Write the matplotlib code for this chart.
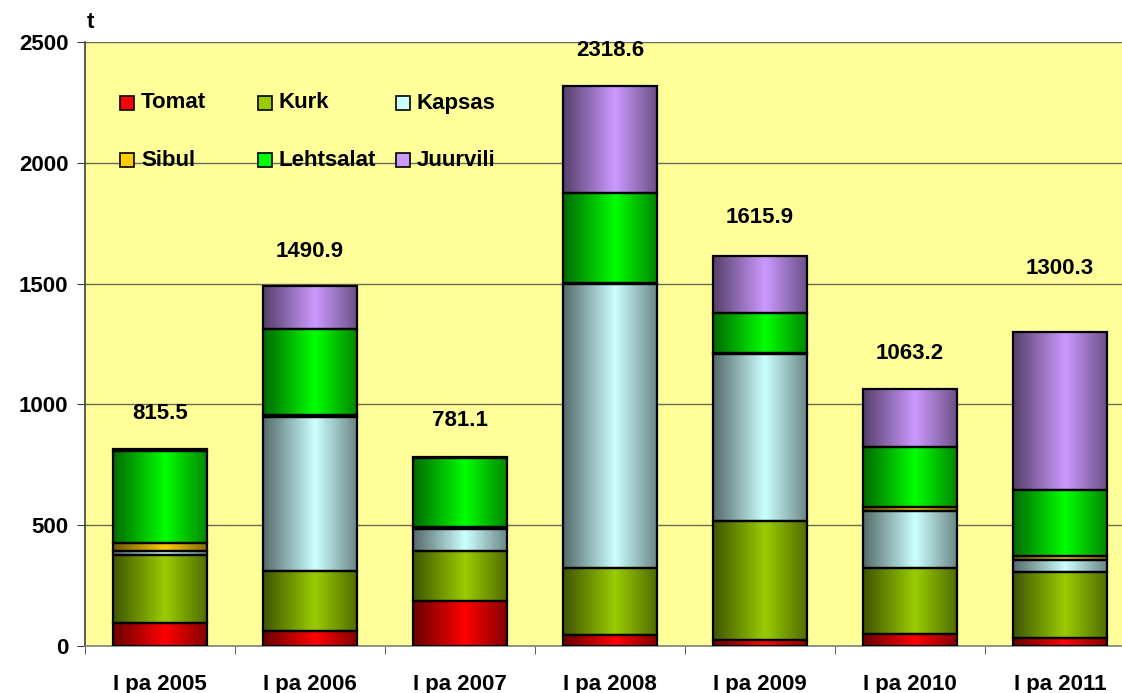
import numpy as np
import matplotlib
matplotlib.use('Agg')
import matplotlib.pyplot as plt
import matplotlib.colors as mcolors
from matplotlib.patches import Rectangle

# Data (t), first half of year
categories = ['I pa 2005', 'I pa 2006', 'I pa 2007', 'I pa 2008',
              'I pa 2009', 'I pa 2010', 'I pa 2011']
tomat = [96, 63, 185, 45, 24, 48, 34]
kurk = [280, 248, 210, 277, 492, 275, 271]
kapsas = [16, 635, 90, 1177, 694, 234, 49]
sibul = [35, 11, 6, 5, 3, 17, 17]
lehtsalat = [381, 354, 287, 372, 167, 250, 274]
juurvili = [7.5, 179.9, 3.1, 442.6, 235.9, 239.2, 655.3]
totals = [815.5, 1490.9, 781.1, 2318.6, 1615.9, 1063.2, 1300.3]

series_names = ['Tomat', 'Kurk', 'Kapsas', 'Sibul', 'Lehtsalat', 'Juurvili']
series_values = [tomat, kurk, kapsas, sibul, lehtsalat, juurvili]
colors = ['#FF0000', '#99CC00', '#CCFFFF', '#FFCC00', '#00FF00', '#CC99FF']

# vertical offset of total labels above bars (data units)
label_offset = [148, 143, 154, 146, 158, 149, 263]

plt.rcParams['font.family'] = ['Liberation Sans', 'DejaVu Sans']
plt.rcParams['font.weight'] = 'bold'

fig = plt.figure(figsize=(11.22, 6.93), dpi=100)
ax = fig.add_axes([85 / 1122, 1 - 646 / 693, 1050 / 1122, 604 / 693])
ax.set_facecolor('#FFFF99')

x = np.arange(len(categories))
width = 0.63

# gradient profile: dark edges, bright centre
t = np.linspace(0, 1, 80)
prof = np.clip(0.42 + 0.58 * (1 - np.abs(t - 0.55) / 0.55), 0, 1)

bottom = np.zeros(len(categories))
for name, vals, col in zip(series_names, series_values, colors):
    vals = np.array(vals, dtype=float)
    bars = ax.bar(x, vals, width, bottom=bottom, color=col, zorder=2, linewidth=0)
    rgb = np.array(mcolors.to_rgb(col))
    img = prof[None, :, None] * rgb[None, None, :]
    for p in bars:
        im = ax.imshow(img, extent=[p.get_x(), p.get_x() + p.get_width(),
                                    p.get_y(), p.get_y() + p.get_height()],
                       aspect='auto', origin='lower', zorder=2.5,
                       interpolation='bilinear')
        im.set_clip_path(p)
    ax.bar(x, vals, width, bottom=bottom, facecolor='none',
           edgecolor='black', linewidth=1.6, zorder=3)
    bottom += vals

for i, tot in enumerate(totals):
    ax.text(x[i], tot + label_offset[i], f'{tot:.1f}', ha='center', va='center',
            fontsize=16, fontweight='bold')

ax.set_xlim(-0.5, len(categories) - 0.5)
ax.set_ylim(0, 2500)
ax.set_yticks(np.arange(0, 2501, 500))
ax.grid(axis='y', color='#6b6b55', linewidth=1, zorder=1)
ax.set_axisbelow(True)

ax.set_xticks(x)
ax.set_xticklabels(categories)
ax.set_xticks(np.arange(-0.5, len(categories)), minor=True)
ax.tick_params(axis='x', which='major', length=0, pad=20, labelsize=16)
ax.tick_params(axis='x', which='minor', length=6, color='#404040', direction='out')
ax.tick_params(axis='y', length=6, color='#404040', direction='out', labelsize=16, pad=6)
for lab in ax.get_xticklabels() + ax.get_yticklabels():
    lab.set_fontweight('bold')

for s in ['top', 'right']:
    ax.spines[s].set_visible(False)
ax.spines['left'].set_color('#404040')
ax.spines['bottom'].set_color('#808080')
ax.spines['left'].set_linewidth(1.2)
ax.spines['bottom'].set_linewidth(1.2)

# legend drawn inside the plot area (figure pixel layout)
leg_cols = [120, 258, 396]
leg_rows = [103, 160]
for k, (name, col) in enumerate(zip(series_names, colors)):
    px = leg_cols[k % 3]
    py = leg_rows[k // 3]
    fig.patches.append(Rectangle((px / 1122, 1 - (py + 7) / 693), 14 / 1122, 14 / 693,
                                 transform=fig.transFigure, facecolor=col,
                                 edgecolor='black', linewidth=1.2, zorder=5))
    fig.text((px + 21) / 1122, 1 - py / 693, name, fontsize=16, fontweight='bold',
             va='center', ha='left')

fig.text(90 / 1122, 1 - 22 / 693, 't', fontsize=16, fontweight='bold',
         va='center', ha='center')

fig.savefig('out.png', dpi=100, facecolor='white')
